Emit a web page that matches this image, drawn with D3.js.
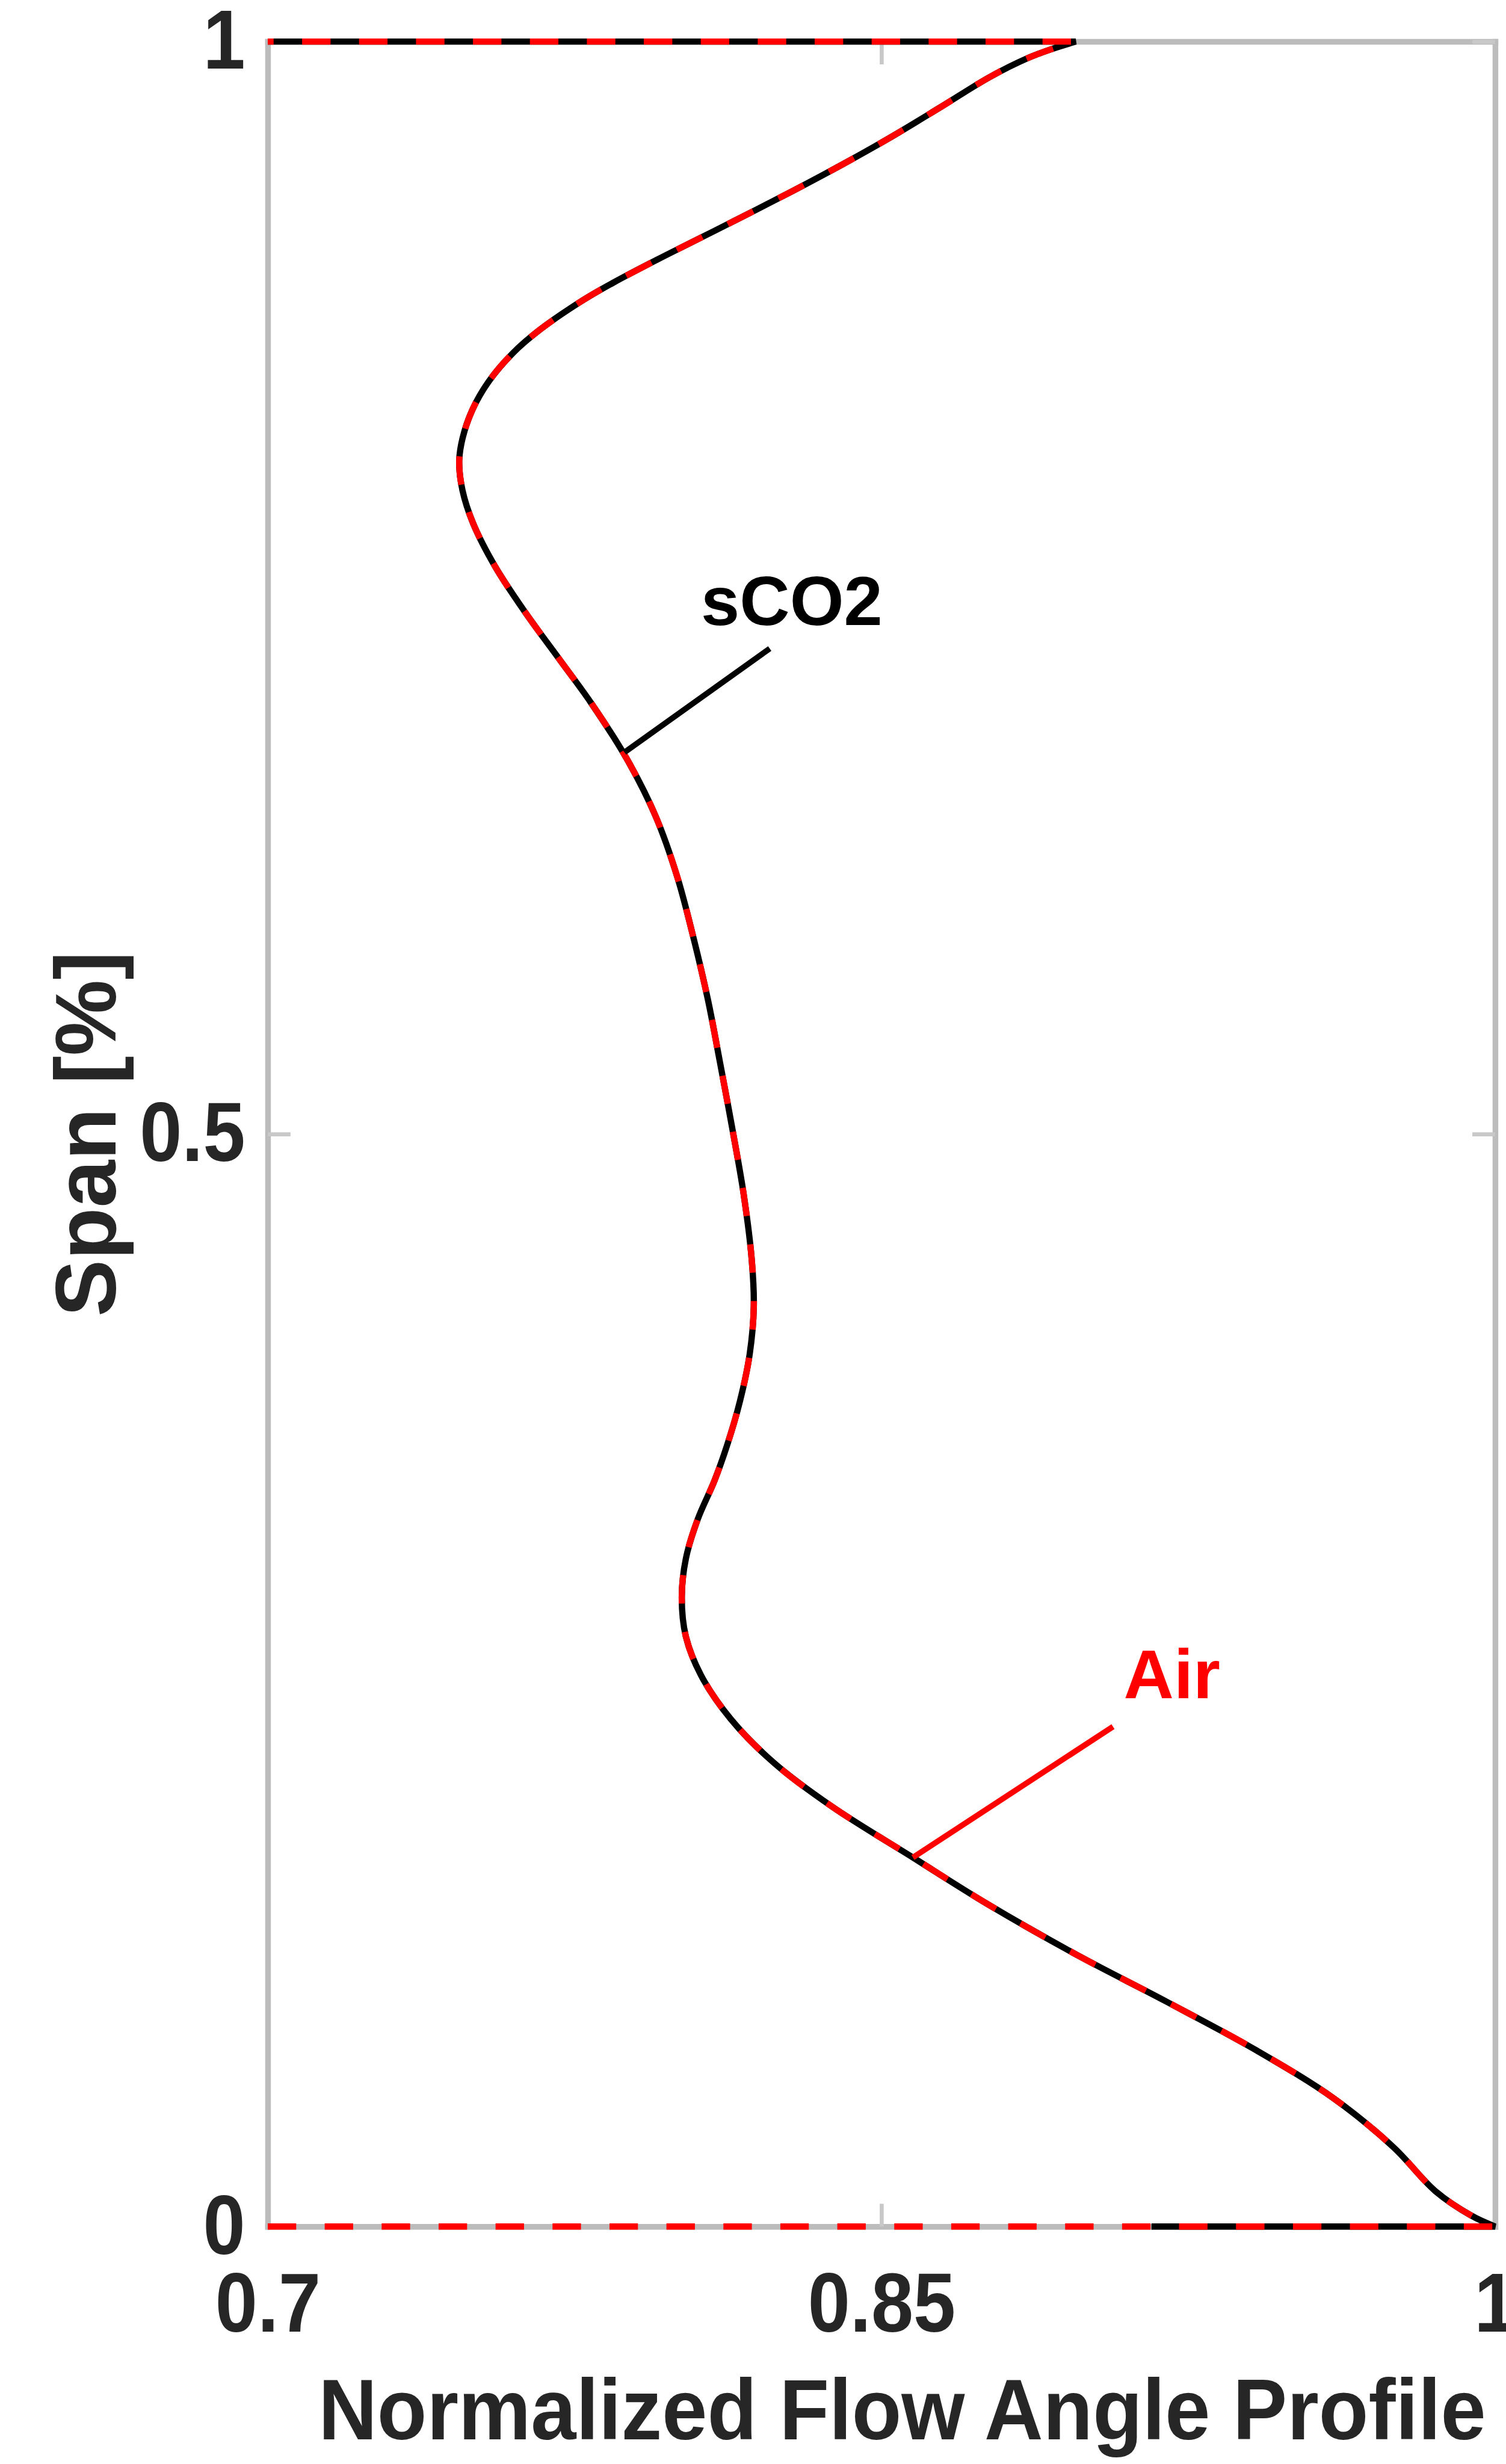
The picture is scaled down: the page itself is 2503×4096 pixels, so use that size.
<!DOCTYPE html>
<html>
<head>
<meta charset="utf-8">
<script src="https://cdn.jsdelivr.net/npm/d3@7"></script>
<style>
  html, body { margin: 0; padding: 0; background: #fff; }
  svg { display: block; }
</style>
</head>
<body>
<script>
// spanwise stations along the profile (hub -> tip)
const spanValues = [0, 0.005, 0.0162, 0.0362, 0.0586, 0.0808, 0.1029, 0.1243, 0.1475,
  0.1689, 0.1921, 0.2121, 0.2322, 0.2523, 0.2700, 0.2880, 0.3057, 0.3237, 0.3414,
  0.3583, 0.3776, 0.3993, 0.4209, 0.4425, 0.4728, 0.5030, 0.5332, 0.5614, 0.5895,
  0.6177, 0.6455, 0.6716, 0.6974, 0.7170, 0.7386, 0.7600, 0.7795, 0.7946, 0.8077,
  0.8183, 0.8314, 0.8444, 0.8574, 0.8681, 0.8811, 0.8898, 0.9004, 0.9114, 0.9221,
  0.9320, 0.9437, 0.9557, 0.9698, 0.9838, 0.9924, 0.9965, 1]

// normalized flow angle, air (red dashed)
const airValues = [1.0, 0.9942, 0.9854, 0.9752, 0.9606, 0.9415, 0.9197, 0.8978, 0.8760,
  0.8577, 0.8380, 0.8238, 0.8132, 0.8059, 0.8022, 0.8012, 0.8022, 0.8051, 0.8092,
  0.8124, 0.8154, 0.8178, 0.8188, 0.8183, 0.8163, 0.8135, 0.8105, 0.8076, 0.8041,
  0.8001, 0.7948, 0.7878, 0.7790, 0.7714, 0.7630, 0.7555, 0.7502, 0.7476, 0.7468,
  0.7476, 0.7500, 0.7540, 0.7599, 0.7665, 0.7766, 0.7846, 0.7954, 0.8071, 0.8184,
  0.8287, 0.8404, 0.8518, 0.8643, 0.8765, 0.8857, 0.8915, 0.8975]

// normalized flow angle, sCO2 (black solid) - lies on the air curve
const sco2Values = [1.0, 0.9942, 0.9854, 0.9752, 0.9606, 0.9415, 0.9197, 0.8978, 0.8760,
  0.8577, 0.8380, 0.8238, 0.8132, 0.8059, 0.8022, 0.8012, 0.8022, 0.8051, 0.8092,
  0.8124, 0.8154, 0.8178, 0.8188, 0.8183, 0.8163, 0.8135, 0.8105, 0.8076, 0.8041,
  0.8001, 0.7948, 0.7878, 0.7790, 0.7714, 0.7630, 0.7555, 0.7502, 0.7476, 0.7468,
  0.7476, 0.7500, 0.7540, 0.7599, 0.7665, 0.7766, 0.7846, 0.7954, 0.8071, 0.8184,
  0.8287, 0.8404, 0.8518, 0.8643, 0.8765, 0.8857, 0.8915, 0.8975]

// straight pieces along hub (span 0) and tip (span 1): start angle at hub, end angle at tip
const airHubStart = 0.7, airTipEnd = 0.7
const sco2HubStart = 0.916, sco2TipEnd = 0.7

const xTicks = [0.7, 0.85, 1]
const xTickLabels = ["0.7", "0.85", "1"]
const yTicks = [0, 0.5, 1]
const yTickLabels = ["0", "0.5", "1"]

// annotations: text anchor (angle, span) and leader line ends
const labelNames = ["sCO2", "Air"]
const labelAngle = [0.8059, 0.9092]
const labelSpan = [0.7329, 0.2419]
const leaderAngle = [[0.7872, 0.8227], [0.8577, 0.9066]]
const leaderSpan = [[0.6747, 0.7222], [0.1689, 0.2288]]
const labelColors = ["#000000", "#ff0000"]

// drawn in the reference's pixel units, the viewBox scales to the window
const W = 2644, H = 4327
const margin = {top: 73, right: 19, bottom: 417, left: 470}

const svg = d3.select("body").append("svg")
    .attr("width", 2503)
    .attr("height", 4096)
    .attr("viewBox", `0 0 ${W} ${H}`)

const x = d3.scaleLinear().domain([0.7, 1]).range([margin.left, W - margin.right])
const y = d3.scaleLinear().domain([0, 1]).range([H - margin.bottom, margin.top])

const font = "'Liberation Sans', Arial, Helvetica, sans-serif"
const tickLen = 40

// axes box
svg.append("g")
    .attr("transform", `translate(0,${y(0)})`)
    .call(d3.axisBottom(x).tickValues(xTicks).tickFormat((d, i) => xTickLabels[i])
        .tickSizeInner(-tickLen).tickSizeOuter(0).tickPadding(80))
svg.append("g")
    .attr("transform", `translate(0,${y(1)})`)
    .call(d3.axisTop(x).tickValues(xTicks).tickFormat("")
        .tickSizeInner(-tickLen).tickSizeOuter(0))
svg.append("g")
    .attr("transform", `translate(${x(0.7)},0)`)
    .call(d3.axisLeft(y).tickValues(yTicks).tickFormat((d, i) => yTickLabels[i])
        .tickSizeInner(-tickLen).tickSizeOuter(0).tickPadding(44))
svg.append("g")
    .attr("transform", `translate(${x(1)},0)`)
    .call(d3.axisRight(y).tickValues(yTicks).tickFormat("")
        .tickSizeInner(-tickLen).tickSizeOuter(0))

svg.selectAll(".domain")
    .attr("stroke", "#bcbcbc")
    .attr("stroke-width", 10)
    .attr("stroke-linecap", "square")
svg.selectAll(".tick line")
    .attr("stroke", "#c8c8c8")
    .attr("stroke-width", 7)
svg.selectAll(".tick text")
    .attr("font-family", font)
    .attr("font-size", 148)
    .attr("font-weight", "bold")
    .attr("fill", "#262626")
    .attr("transform", "scale(0.9,1)")

// curves: straight hub piece, smooth profile, straight tip piece
const smooth = d3.line()
    .x(d => x(d[0]))
    .y(d => y(d[1]))
    .curve(d3.curveCatmullRom.alpha(0.5))

function profilePath(values, hubStart, tipEnd) {
    const pts = values.map((v, i) => [v, spanValues[i]])
    const first = pts[0], last = pts[pts.length - 1]
    return `M${x(hubStart)},${y(0)}L${x(first[0])},${y(first[1])}` +
        smooth(pts).replace(/^M/, "L") +
        `L${x(tipEnd)},${y(1)}`
}

svg.append("path")
    .attr("d", profilePath(sco2Values, sco2HubStart, sco2TipEnd))
    .attr("fill", "none")
    .attr("stroke", "#000")
    .attr("stroke-width", 11)

svg.append("path")
    .attr("d", profilePath(airValues, airHubStart, airTipEnd))
    .attr("fill", "none")
    .attr("stroke", "#ff0000")
    .attr("stroke-width", 11)
    .attr("stroke-dasharray", "50,50")

// leader lines and labels
labelNames.forEach((name, i) => {
    svg.append("line")
        .attr("x1", x(leaderAngle[i][0])).attr("y1", y(leaderSpan[i][0]))
        .attr("x2", x(leaderAngle[i][1])).attr("y2", y(leaderSpan[i][1]))
        .attr("stroke", labelColors[i])
        .attr("stroke-width", 10)
    svg.append("text")
        .attr("x", x(labelAngle[i]))
        .attr("y", y(labelSpan[i]))
        .attr("font-family", font)
        .attr("font-size", 122)
        .attr("font-weight", "bold")
        .attr("fill", labelColors[i])
        .text(name)
})

// axis titles
svg.append("text")
    .attr("x", 1584)
    .attr("y", 4284)
    .attr("text-anchor", "middle")
    .attr("font-family", font)
    .attr("font-size", 150)
    .attr("font-weight", "bold")
    .attr("fill", "#262626")
    .attr("textLength", 2050)
    .attr("lengthAdjust", "spacingAndGlyphs")
    .text("Normalized Flow Angle Profile")

svg.append("text")
    .attr("transform", `translate(203,${(y(0) + y(1)) / 2}) rotate(-90)`)
    .attr("text-anchor", "middle")
    .attr("font-family", font)
    .attr("font-size", 150)
    .attr("font-weight", "bold")
    .attr("fill", "#262626")
    .text("Span [%]")
</script>
</body>
</html>
